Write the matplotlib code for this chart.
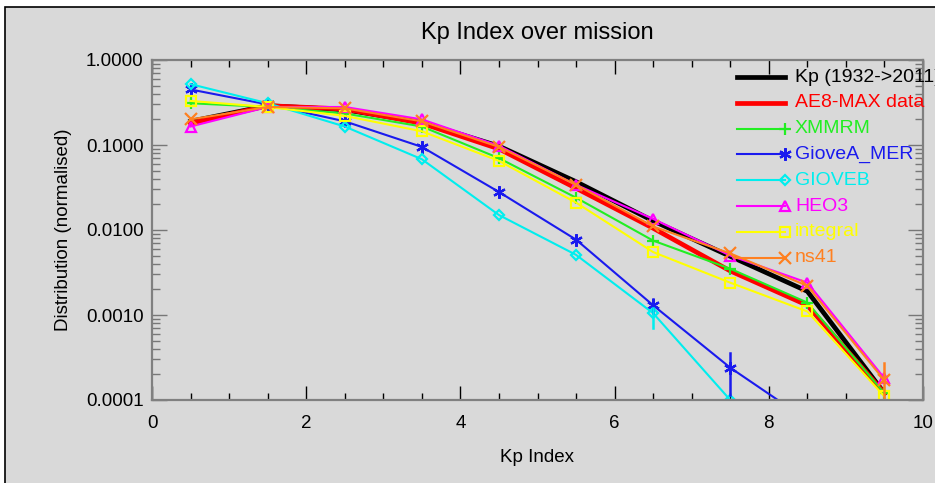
import matplotlib
matplotlib.use('Agg')
import matplotlib.pyplot as plt
import numpy as np
from matplotlib.lines import Line2D
from matplotlib.patches import Rectangle
from matplotlib.ticker import FixedLocator, LogLocator, NullFormatter

# Kp bins (centres)
kp = [0.5, 1.5, 2.5, 3.5, 4.5, 5.5, 6.5, 7.5, 8.5, 9.5]

# normalised distributions
kp_hist = [0.19, 0.29, 0.26, 0.185, 0.097, 0.037, 0.0128, 0.0049, 0.0019, 0.00012]
ae8_max = [0.18, 0.29, 0.265, 0.18, 0.09, 0.031, 0.0105, 0.0033, 0.0013, 0.00012]
xmmrm = [0.31, 0.28, 0.235, 0.165, 0.07, 0.024, 0.0075, 0.0035, 0.0014, 0.00012]
giovea = [0.45, 0.30, 0.19, 0.095, 0.028, 0.0077, 0.0013, 0.00024, 0.000058, np.nan]
gioveb = [0.52, 0.31, 0.165, 0.068, 0.015, 0.0051, 0.00105, 0.0001, np.nan, np.nan]
heo3 = [0.165, 0.28, 0.28, 0.2, 0.098, 0.034, 0.0135, 0.005, 0.0024, 0.00018]
integral = [0.33, 0.28, 0.22, 0.145, 0.065, 0.021, 0.0055, 0.0024, 0.0011, 0.00011]
ns41 = [0.2, 0.28, 0.27, 0.19, 0.095, 0.034, 0.011, 0.0053, 0.0022, 0.00017]

# a few error bars (x, low, high)
err_giovea = [(6.5, 0.00105, 0.00155), (7.5, 0.000115, 0.00036)]
err_gioveb = [(6.5, 0.00071, 0.0012)]
err_ns41 = [(9.5, 0.0001, 0.00027)]

names = ['Kp (1932->2011)', 'AE8-MAX data', 'XMMRM', 'GioveA_MER', 'GIOVEB',
         'HEO3', 'integral', 'ns41']
series = [kp_hist, ae8_max, xmmrm, giovea, gioveb, heo3, integral, ns41]
colors = ['black', '#ff0000', '#22ee22', '#1a1aee', '#00eeee', '#ff00ff',
          '#ffff00', '#ff8020']
markers = [None, None, '+', (6, 2, 0), 'D', '^', 's', 'x']
widths = [3.4, 3.4, 1.5, 1.5, 1.5, 1.5, 1.5, 1.5]
msizes = [0, 0, 9, 9, 5, 7, 7, 8]

plt.rcParams['font.family'] = ['Liberation Sans', 'DejaVu Sans']
bg = '#d9d9d9'

fig = plt.figure(figsize=(9.35, 4.83), dpi=100, facecolor='white')
# grey panel with black frame
fig.add_artist(Rectangle((5 / 935, -0.1), 1.2, 1 - 7 / 483 + 0.1,
                         transform=fig.transFigure, facecolor=bg,
                         edgecolor='black', linewidth=1.2, zorder=-10))

ax = fig.add_axes([152 / 935, 1 - 400 / 483, 771 / 935, 340 / 483])
ax.set_facecolor(bg)

for ys, c, m, lw, ms in zip(series, colors, markers, widths, msizes):
    if m is None:
        ax.plot(kp, ys, color=c, lw=lw, solid_joinstyle='miter')
    else:
        ax.plot(kp, ys, color=c, lw=lw, marker=m, ms=ms, mfc='none',
                mec=c, mew=1.6)

for errs, c in [(err_giovea, colors[3]), (err_gioveb, colors[4]), (err_ns41, colors[7])]:
    for x, lo, hi in errs:
        ax.plot([x, x], [lo, hi], color=c, lw=1.8)

ax.set_yscale('log')
ax.set_xlim(0, 10)
ax.set_ylim(0.0001, 1.0)
ax.set_xticks([0, 2, 4, 6, 8, 10])
ax.xaxis.set_minor_locator(FixedLocator(np.arange(0, 10.01, 0.5)))
ax.set_yticks([0.0001, 0.001, 0.01, 0.1, 1.0])
ax.set_yticklabels(['0.0001', '0.0010', '0.0100', '0.1000', '1.0000'])
ax.yaxis.set_minor_locator(LogLocator(base=10, subs=np.arange(2, 10)))
ax.yaxis.set_minor_formatter(NullFormatter())

ax.tick_params(axis='both', which='both', direction='in', top=True, right=True,
               labelsize=13.5)
ax.tick_params(axis='x', which='major', length=10, width=1, color='black', pad=11)
ax.tick_params(axis='x', which='minor', length=5, width=1, color='black')
ax.tick_params(axis='y', which='major', length=11, width=1, color='#777777', pad=6)
ax.tick_params(axis='y', which='minor', length=6, width=1, color='#777777')
for s in ax.spines.values():
    s.set_color('#808080')
    s.set_linewidth(1.6)

ax.set_title('Kp Index over mission', fontsize=17, pad=15)
ax.set_xlabel('Kp Index', fontsize=13.5, labelpad=12)
ax.set_ylabel('Distribution (normalised)', fontsize=13.5, labelpad=10)

# IDL-style legend: marker at the right end of the sample line
x0, x1, xt = 0.759, 0.821, 0.834
for i, (n, c, m, lw, ms) in enumerate(zip(names, colors, markers, widths, msizes)):
    yy = 0.95 - i * 0.0759
    ax.add_line(Line2D([x0, x1], [yy, yy], transform=ax.transAxes, color=c,
                       lw=lw if m is None else 1.5, clip_on=False))
    if m is not None:
        ax.add_line(Line2D([x1], [yy], transform=ax.transAxes, color=c,
                           marker=m, ms=ms, mfc='none', mec=c, mew=1.6,
                           clip_on=False))
    ax.text(xt, yy, n, transform=ax.transAxes, color=c, fontsize=14,
            va='center', ha='left', clip_on=False)

fig.savefig('out.png', dpi=100, facecolor=fig.get_facecolor())
